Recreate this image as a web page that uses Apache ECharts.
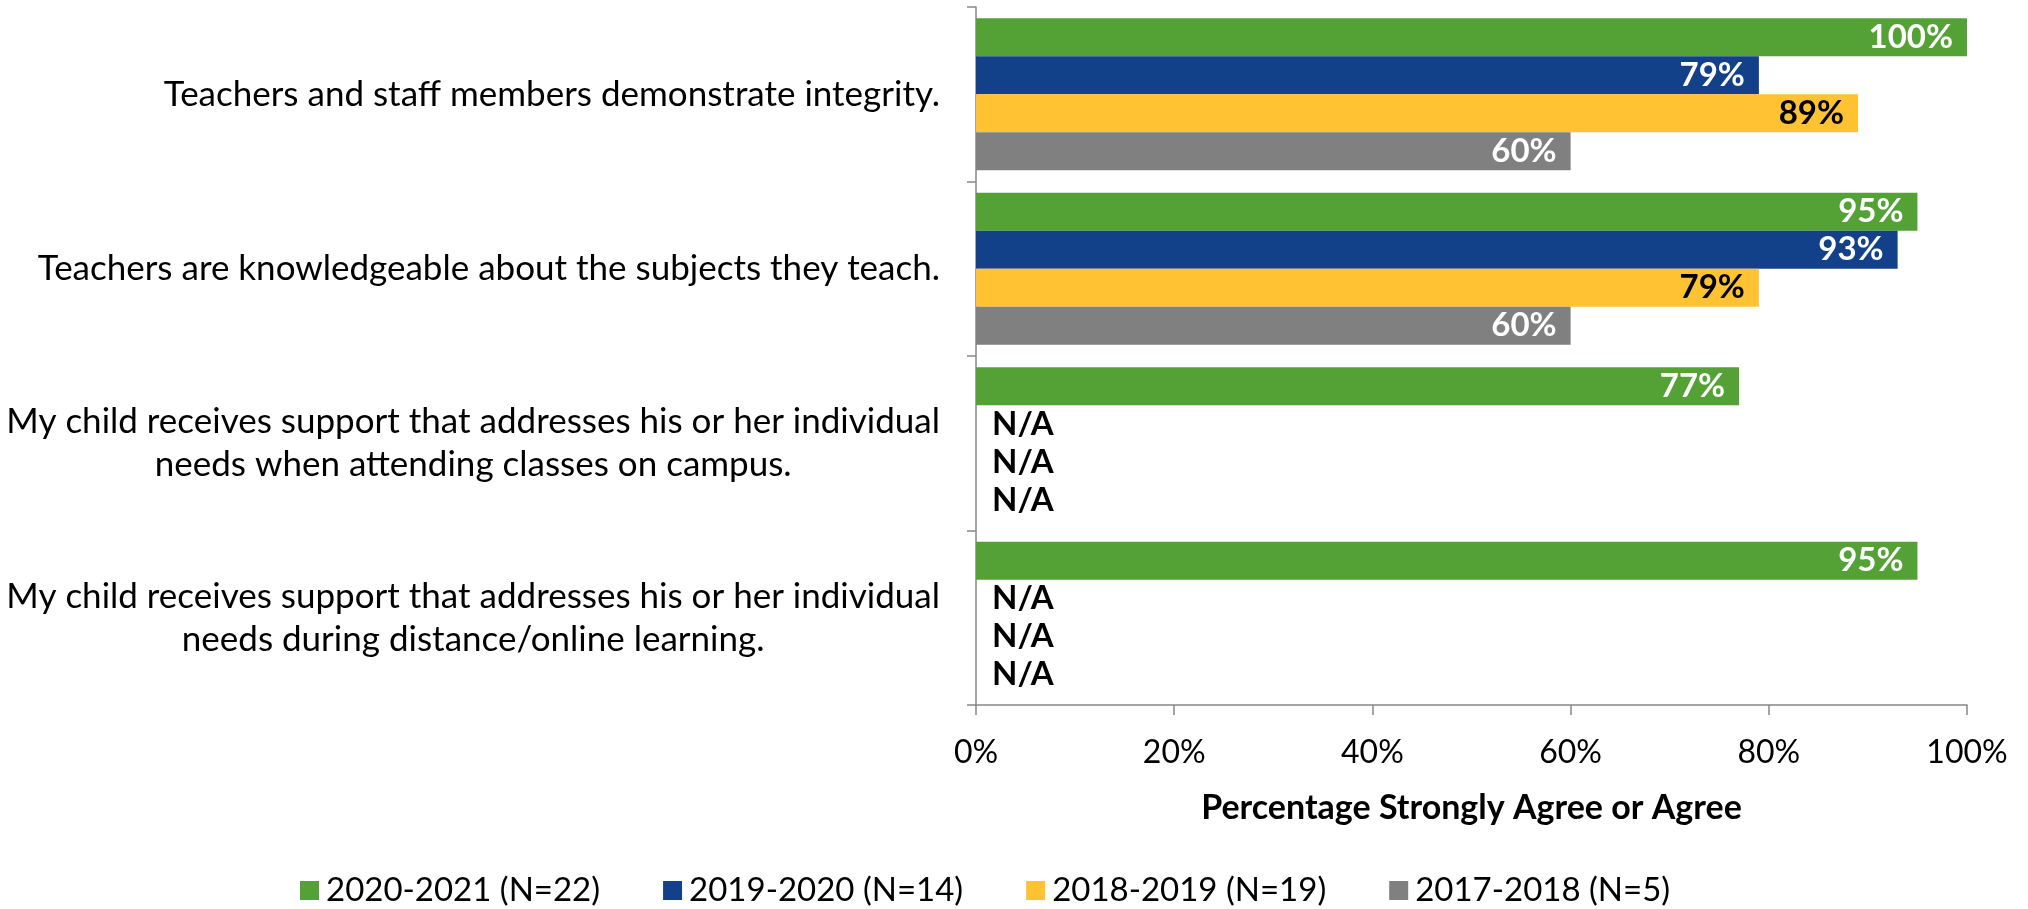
<!DOCTYPE html>
<html><head><meta charset="utf-8">
<script src="https://cdn.jsdelivr.net/npm/echarts@6/dist/echarts.min.js"></script>
<style>html,body{margin:0;padding:0;background:#fff}#c{width:2028px;height:909px}</style>
</head><body><div id="c"></div>
<script>
const categories = [
  "Teachers and staff members demonstrate integrity.",
  "Teachers are knowledgeable about the subjects they teach.",
  "My child receives support that addresses his or her individual\nneeds when attending classes on campus.",
  "My child receives support that addresses his or her individual\nneeds during distance/online learning."
];
const seriesNames = ["2020-2021 (N=22)", "2019-2020 (N=14)", "2018-2019 (N=19)", "2017-2018 (N=5)"];
const s2021 = [100, 95, 77, 95];
const s2020 = [79, 93, null, null];
const s2019 = [89, 79, null, null];
const s2018 = [60, 60, null, null];
const xTicks = [0, 20, 40, 60, 80, 100];
const axisTitle = "Percentage Strongly Agree or Agree";

const colors = ["#54A136", "#134189", "#FFC233", "#808080"];
const labelColors = ["#fff", "#fff", "#000", "#fff"];
const FONT = "Lato";
const values = [s2021, s2020, s2019, s2018];

const series = seriesNames.map((name, i) => ({
  name, type: 'bar', barGap: '0%', barCategoryGap: '13%',
  itemStyle: {color: colors[i]},
  data: values[i].map(v => v == null
    ? {value: 0, label: {position: 'insideLeft', distance: 16, color: '#000', formatter: 'N/A'}}
    : v),
  label: {
    show: true, position: 'insideRight', distance: 14,
    color: labelColors[i], fontFamily: FONT, fontWeight: 'bold', fontSize: 33,
    formatter: p => p.value + '%'
  }
}));

const chart = echarts.init(document.getElementById('c'), null, {renderer: 'canvas'});
chart.setOption({
  animation: false,
  textStyle: {fontFamily: FONT},
  grid: {left: 976, right: 61, top: 7, bottom: 204, containLabel: false},
  xAxis: {
    type: 'value', min: xTicks[0], max: xTicks[xTicks.length - 1], interval: 20,
    axisLine: {show: true, lineStyle: {color: '#868686', width: 1.5}},
    axisTick: {show: true, length: 10, lineStyle: {color: '#868686', width: 1.5}},
    splitLine: {show: false},
    axisLabel: {formatter: v => v + '%', color: '#000', fontSize: 32, fontFamily: FONT, margin: 32},
    name: axisTitle, nameLocation: 'middle', nameGap: 86,
    nameTextStyle: {fontWeight: 'bold', fontSize: 34, color: '#000', fontFamily: FONT}
  },
  yAxis: {
    type: 'category', inverse: true, data: categories,
    axisLine: {show: true, lineStyle: {color: '#868686', width: 1.5}},
    axisTick: {show: true, length: 9, lineStyle: {color: '#868686', width: 1.5}},
    axisLabel: {
      color: '#000', fontSize: 35, fontFamily: FONT, margin: 36, lineHeight: 43, align: 'right',
      formatter: v => v.split('\n').map(l => '{c|' + l + '}').join('\n'),
      rich: {c: {align: 'center', fontSize: 35, fontFamily: FONT, color: '#000', lineHeight: 43}}
    }
  },
  legend: {
    data: seriesNames, top: 869, left: 295, itemWidth: 19, itemHeight: 19, itemGap: 63,
    icon: 'rect',
    textStyle: {fontSize: 33, color: '#000', fontFamily: FONT, padding: [0, 0, 0, 2]}
  },
  series
});
</script></body></html>
